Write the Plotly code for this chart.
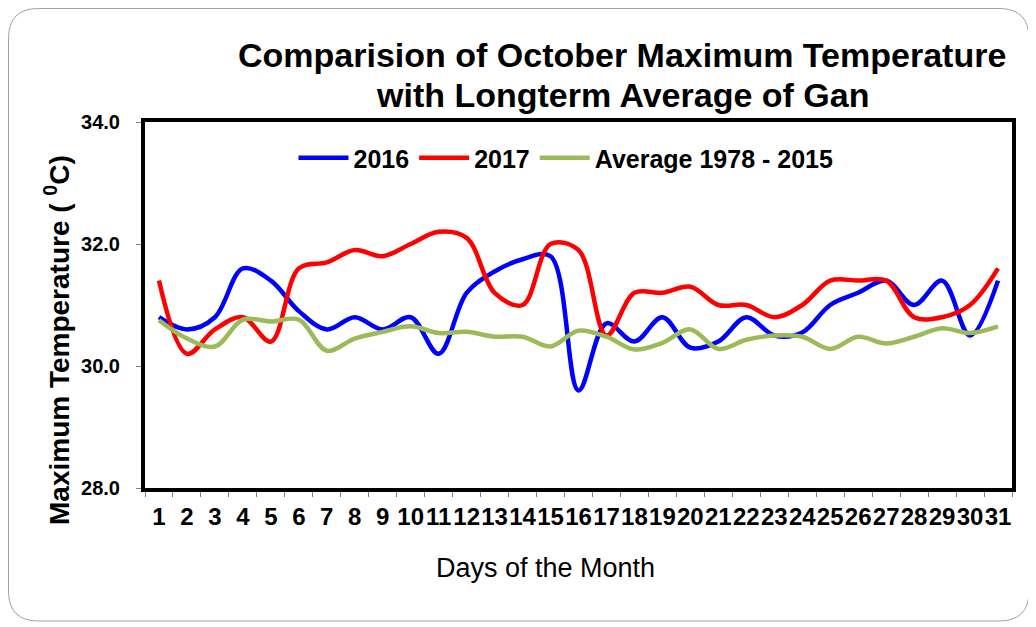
import plotly.graph_objects as go

days = [str(d) for d in range(1, 32)]
t2016 = [30.8, 30.6, 30.8, 31.6, 31.4, 30.9, 30.6, 30.8, 30.6, 30.8, 30.2,
         31.2, 31.55, 31.75, 31.8, 29.6, 30.7, 30.4, 30.8, 30.3, 30.4,
         30.8, 30.5, 30.55, 31.0, 31.2, 31.4, 31.0, 31.4, 30.5, 31.4]
t2017 = [31.4, 30.2, 30.6, 30.8, 30.4, 31.6, 31.7, 31.9, 31.8, 32.0, 32.2,
         32.1, 31.2, 31.0, 32.0, 31.9, 30.5, 31.2, 31.2, 31.3, 31.0,
         31.0, 30.8, 31.0, 31.4, 31.4, 31.4, 30.8, 30.8, 31.0, 31.6]
tavg = [30.75, 30.45, 30.32, 30.76, 30.73, 30.76, 30.25, 30.45, 30.56, 30.65, 30.54,
        30.56, 30.48, 30.48, 30.32, 30.58, 30.48, 30.27, 30.38, 30.6, 30.28,
        30.43, 30.5, 30.48, 30.28, 30.48, 30.37, 30.48, 30.62, 30.54, 30.65]

# page body has an 8px margin; work in screen pixels and shift by it
OFF = 8
W, H = 1036 - OFF, 627 - OFF
L, R, T, B = 145, 1012, 122, 488  # screen pixels of plot area

def px(x):
    return (x - L) / (R - L)

def py(y):
    return (B - y) / (B - T)

FONT = "Arial, Liberation Sans, sans-serif"

fig = go.Figure()
series = [("2016", t2016, "#0000FF"), ("2017", t2017, "#FF0000"),
          ("Average 1978 - 2015", tavg, "#9BBB59")]
for name, vals, col in series:
    fig.add_trace(go.Scatter(x=days, y=vals, name=name, mode="lines",
                             line=dict(color=col, width=4.5, shape="spline", smoothing=1.0)))

# rounded outer border
x0, x1, y0, y1, r = OFF + 0.5, 1029, OFF + 0.5, 621, 30
path = (f"M {px(x0+r)} {py(y0)} L {px(x1-r)} {py(y0)} Q {px(x1)} {py(y0)} {px(x1)} {py(y0+r)} "
        f"L {px(x1)} {py(y1-r)} Q {px(x1)} {py(y1)} {px(x1-r)} {py(y1)} "
        f"L {px(x0+r)} {py(y1)} Q {px(x0)} {py(y1)} {px(x0)} {py(y1-r)} "
        f"L {px(x0)} {py(y0+r)} Q {px(x0)} {py(y0)} {px(x0+r)} {py(y0)} Z")
fig.add_shape(type="path", path=path, xref="paper", yref="paper",
              line=dict(color="#A0A0A0", width=1), layer="below")

annos = [
    dict(text="<b>Comparision of October Maximum Temperature</b>", x=px(622), y=py(55), size=34),
    dict(text="<b>with Longterm Average of Gan</b>", x=px(622), y=py(95), size=34),
]
for a in annos:
    fig.add_annotation(text=a["text"], x=a["x"], y=a["y"], xref="paper", yref="paper",
                       xanchor="center", yanchor="middle", showarrow=False,
                       font=dict(size=a["size"], family=FONT, color="black"))
fig.add_annotation(text="<b>Maximum Temperature ( <sup>0</sup>C)</b>", x=px(57), y=py(340),
                   xref="paper", yref="paper", xanchor="center", yanchor="middle",
                   textangle=-90, showarrow=False,
                   font=dict(size=28, family=FONT, color="black"))
fig.add_annotation(text="Days of the Month", x=px(545), y=py(568),
                   xref="paper", yref="paper", xanchor="center", yanchor="middle",
                   showarrow=False, font=dict(size=27, family=FONT, color="black"))

fig.update_layout(
    width=W, height=H,
    margin=dict(l=L - OFF, r=(W + OFF) - R, t=T - OFF, b=(H + OFF) - B),
    paper_bgcolor="white", plot_bgcolor="white",
    font=dict(family=FONT, color="black"),
    showlegend=True,
    legend=dict(orientation="h", x=px(566), xanchor="center", y=py(158), yanchor="middle",
                font=dict(size=25, family=FONT, color="black", weight="bold"),
                bgcolor="rgba(0,0,0,0)", itemwidth=50, tracegroupgap=0),
)

fig.update_xaxes(
    type="category", range=[-0.5, 30.5], showgrid=False, showline=True, linecolor="black",
    linewidth=4, mirror=True,
    ticks="outside", tickson="boundaries", ticklen=5, tickcolor="#808080", tickwidth=1,
    tickmode="array", tickvals=days, ticktext=days,
    tickangle=0, automargin=False, ticklabelstandoff=4,
    tickfont=dict(size=24, family=FONT, color="black", weight="bold"),
)
fig.update_yaxes(
    range=[28, 34], dtick=2, tickformat=".1f", showgrid=False, showline=True, linecolor="black",
    linewidth=4, mirror=True, ticks="outside", ticklen=5, tickcolor="#808080", tickwidth=1,
    automargin=False, ticklabelstandoff=12,
    tickfont=dict(size=20, family=FONT, color="black", weight="bold"),
    zeroline=False,
)

fig.write_html("out.html")
